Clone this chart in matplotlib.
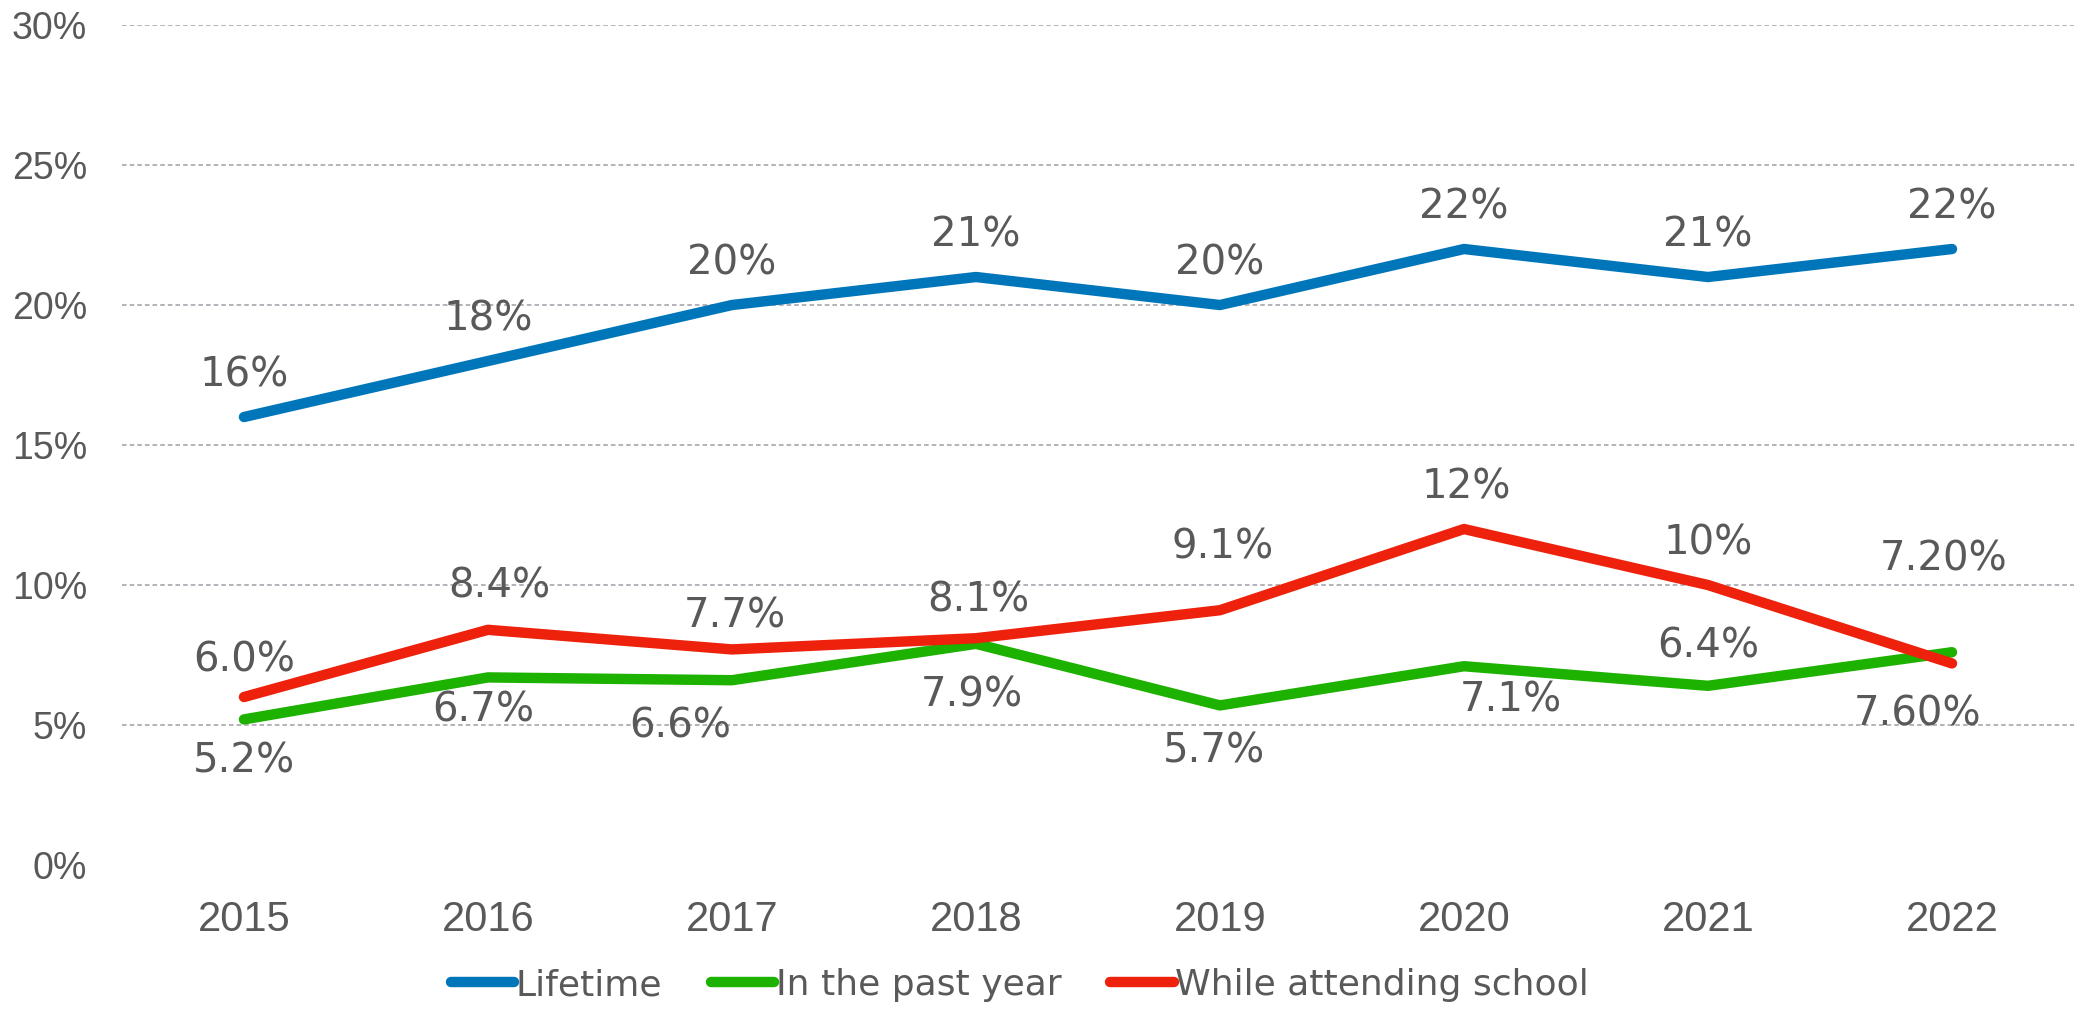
import matplotlib.pyplot as plt
from matplotlib.ticker import FuncFormatter

# ---- data ----
years = ["2015", "2016", "2017", "2018", "2019", "2020", "2021", "2022"]
lifetime = [16, 18, 20, 21, 20, 22, 21, 22]
past_year = [5.2, 6.7, 6.6, 7.9, 5.7, 7.1, 6.4, 7.6]
at_school = [6.0, 8.4, 7.7, 8.1, 9.1, 12, 10, 7.2]

lifetime_lbl = ["16%", "18%", "20%", "21%", "20%", "22%", "21%", "22%"]
past_year_lbl = ["5.2%", "6.7%", "6.6%", "7.9%", "5.7%", "7.1%", "6.4%", "7.60%"]
at_school_lbl = ["6.0%", "8.4%", "7.7%", "8.1%", "9.1%", "12%", "10%", "7.20%"]

# ---- style ----
plt.rcParams['font.family'] = ['Liberation Sans', 'DejaVu Sans']
label_font = ['DejaVu Sans']
grey = "#595959"
c_blue, c_green, c_red = "#0076BA", "#1DB100", "#EE220C"

fig = plt.figure(figsize=(20.74, 10.09), dpi=100)
ax = fig.add_axes([0.0588, 0.1427, 0.9412, 0.8325])

x = list(range(len(years)))
lw = 7.5
ax.plot(x, lifetime, color=c_blue, lw=lw, solid_capstyle="round", label="Lifetime", zorder=3)
ax.plot(x, past_year, color=c_green, lw=lw, solid_capstyle="round", label="In the past year", zorder=3)
ax.plot(x, at_school, color=c_red, lw=lw, solid_capstyle="round", label="While attending school", zorder=4)

# labels: dy in points (+ above / - below), small dx nudges
def put_labels(vals, texts, dy, dx=None):
    for i, (v, t) in enumerate(zip(vals, texts)):
        off_x = dx[i] if dx else 0
        off_y = dy[i] if isinstance(dy, list) else dy
        ax.annotate(t, (i, v), xytext=(off_x, off_y), textcoords="offset points",
                    ha="center", va="center", fontsize=29, color=grey,
                    family=label_font, zorder=5)

put_labels(lifetime, lifetime_lbl, 30)
put_labels(past_year, past_year_lbl, [-30, -24, -33, -37, -33, -25, 28, -45],
           dx=[0, -3, -37, -3, -4, 34, 0, -25])
put_labels(at_school, at_school_lbl, [26, 31, 24, 27, 45, 30, 30, 75],
           dx=[0, 8, 2, 2, 2, 2, 0, -6])

ax.set_xlim(-0.5, 7.5)
ax.set_ylim(0, 30)
ax.set_xticks(x)
ax.set_xticklabels(years)
ax.set_yticks(range(0, 31, 5))
ax.yaxis.set_major_formatter(FuncFormatter(lambda v, p: f"{v:.0f}%"))
ax.tick_params(axis="y", length=0, pad=25, labelsize=27, labelcolor=grey)
ax.tick_params(axis="x", length=0, pad=25, labelsize=30, labelcolor=grey)
for s in ax.spines.values():
    s.set_visible(False)

for yv in range(5, 31, 5):
    ax.axhline(yv, color="#A39CA5", lw=1.1, ls=(0, (3, 2)), zorder=1)

fig.legend(loc="center", bbox_to_anchor=(1020 / 2074, 1 - 985 / 1009), ncol=3,
           frameon=False, prop={"family": label_font, "size": 26}, labelcolor=grey,
           handlelength=1.75, handletextpad=0.05, columnspacing=1.35)

fig.savefig("out.png", dpi=100)
